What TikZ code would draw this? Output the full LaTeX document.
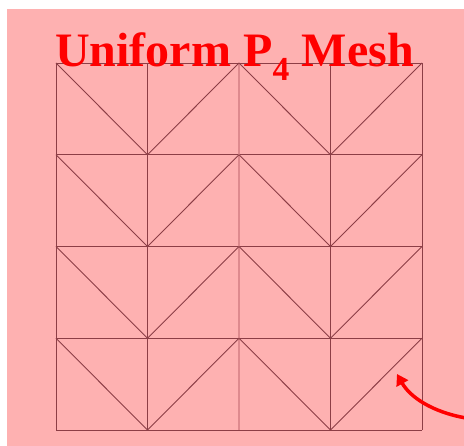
\documentclass[tikz,border=0pt]{standalone}
\usepackage{fontspec}
\setmainfont{Liberation Serif}
\usetikzlibrary{arrows.meta}
\definecolor{bgpink}{RGB}{254,177,177}
\definecolor{meshline}{RGB}{140,62,70}
\definecolor{meshlight}{RGB}{222,138,142}
\tikzset{
  mesh/.style={meshline, line width=0.9pt},
  title/.style={red, font=\fontsize{48}{48}\selectfont\bfseries, anchor=base},
  pointer/.style={red, line width=3.5pt, -{Triangle[length=11pt,width=13pt]}}
}
\begin{document}
\begin{tikzpicture}[x=1pt,y=-1pt]
  \useasboundingbox (0,0) rectangle (464,446);
  \fill[bgpink] (7,9) rectangle (464,446);
  % grid, middle line is lighter
  \foreach \i in {0,1,2,3,4} {
    \draw[mesh] (56,63+91.75*\i) -- (422,63+91.75*\i);
  }
  \foreach \i in {0,1,3,4} {
    \draw[mesh] (56+91.5*\i,63) -- (56+91.5*\i,430);
  }
  \draw[meshlight, line width=1.2pt] (239,63) -- (239,430);
  % diagonals
  \foreach \r in {0,1,2,3} {
    \foreach \c in {0,2} {
      \draw[mesh] (56+91.5*\c,63+91.75*\r) -- (56+91.5*\c+91.5,63+91.75*\r+91.75)
                  -- (56+91.5*\c+183,63+91.75*\r);
    }
  }
  \node[title] (ttl) at (234.5,67) {Uniform P\textsubscript{4} Mesh};
  \coordinate (arrS) at (466,418);
  \coordinate (arrE) at (397,374);
  \draw[pointer] (arrS) .. controls (432,412) and (410,397) .. (arrE);
\end{tikzpicture}
\end{document}
